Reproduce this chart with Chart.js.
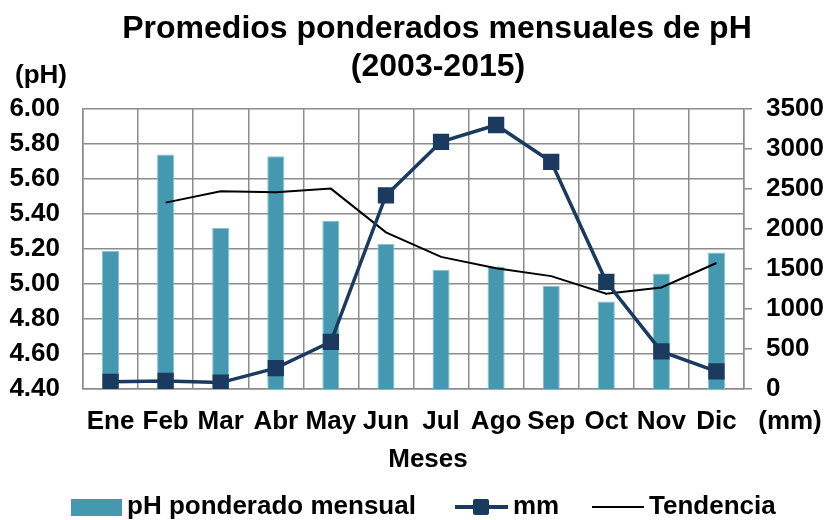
<!DOCTYPE html>
<html>
<head>
<meta charset="utf-8">
<title>Promedios ponderados mensuales de pH</title>
<script src="https://cdn.jsdelivr.net/npm/chart.js@4/dist/chart.umd.min.js"></script>
<style>
  html, body { margin:0; padding:0; background:#fff; }
  #wrap { width:829px; height:520px; }
</style>
</head>
<body>
<div id="wrap"><canvas id="chart" width="829" height="520"></canvas></div>
<script>
const meses = ["Ene","Feb","Mar","Abr","May","Jun","Jul","Ago","Sep","Oct","Nov","Dic"];
const phMensual = [5.19, 5.74, 5.32, 5.73, 5.36, 5.23, 5.08, 5.10, 4.99, 4.90, 5.06, 5.18];
const mm = [90, 100, 80, 260, 590, 2420, 3090, 3300, 2840, 1340, 470, 220];
const tendencia = [null, 5.465, 5.53, 5.525, 5.545, 5.295, 5.155, 5.09, 5.045, 4.945, 4.98, 5.12];

const FONT = '"Liberation Sans", Arial, Helvetica, sans-serif';
const BAR = "#4499b1";
const LINE = "#1b3a60";
const GRID = "#8c8c8c";

// extra labels + legend drawn on the canvas
const extras = {
  id: "extras",
  afterDraw(chart){
    const c = chart.ctx;
    c.save();
    c.fillStyle = "#000";
    c.font = `bold 32px ${FONT}`;
    c.textAlign = "center";
    c.textBaseline = "middle";
    c.fillText("Promedios ponderados mensuales de pH", 437, 29);
    c.fillText("(2003-2015)", 438, 67);

    c.font = `bold 26px ${FONT}`;
    c.fillText("(pH)", 41, 76);
    c.fillText("(mm)", 790, 422);
    c.fillText("Meses", 428, 460);

    // legend
    const ly = 507;
    c.textAlign = "left";
    c.fillStyle = BAR;
    c.fillRect(71, ly - 8, 51, 17);
    c.fillStyle = "#000";
    c.fillText("pH ponderado mensual", 127, ly);

    c.strokeStyle = LINE;
    c.lineWidth = 4;
    c.beginPath(); c.moveTo(455, ly); c.lineTo(508, ly); c.stroke();
    c.fillStyle = LINE;
    c.beginPath();
    if (c.roundRect) c.roundRect(473, ly - 8, 16, 16, 2); else c.rect(473, ly - 8, 16, 16);
    c.fill();
    c.fillStyle = "#000";
    c.fillText("mm", 513, ly);

    c.strokeStyle = "#000";
    c.lineWidth = 2;
    c.beginPath(); c.moveTo(592, ly); c.lineTo(644, ly); c.stroke();
    c.fillText("Tendencia", 649, ly);
    c.restore();
  }
};

new Chart(document.getElementById("chart"), {
  data: {
    labels: meses,
    datasets: [
      {
        type: "line",
        label: "mm",
        data: mm,
        yAxisID: "y2",
        borderColor: LINE,
        backgroundColor: LINE,
        borderWidth: 3.5,
        pointStyle: "rect",
        pointRadius: 11.5,
        pointBorderWidth: 0,
        tension: 0,
        order: 1
      },
      {
        type: "line",
        label: "Tendencia",
        data: tendencia,
        yAxisID: "y",
        borderColor: "#000",
        borderWidth: 2,
        pointRadius: 0,
        tension: 0,
        order: 2
      },
      {
        type: "bar",
        label: "pH ponderado mensual",
        data: phMensual,
        yAxisID: "y",
        backgroundColor: BAR,
        borderColor: "#86c1d2",
        borderWidth: 1,
        barPercentage: 0.31,
        categoryPercentage: 1,
        order: 3
      }
    ]
  },
  options: {
    responsive: false,
    animation: false,
    devicePixelRatio: 1,
    layout: { padding: { top: 109, left: 0, right: 0, bottom: 0 } },
    plugins: {
      legend: { display: false },
      title: { display: false },
      tooltip: { enabled: false }
    },
    scales: {
      x: {
        offset: true,
        grid: { color: GRID, lineWidth: 1.5, drawTicks: false, offset: true },
        border: { color: GRID, width: 1.5 },
        ticks: { color: "#000", font: { family: FONT, size: 26, weight: "bold" }, padding: 17, maxRotation: 0, autoSkip: false },
        afterFit(s){ s.height = 131; }
      },
      y: {
        position: "left",
        min: 4.4,
        max: 6.0,
        grid: { color: GRID, lineWidth: 1.5, drawTicks: false },
        border: { color: GRID, width: 1.5 },
        ticks: {
          stepSize: 0.2,
          color: "#000",
          padding: 23,
          font: { family: FONT, size: 26, weight: "bold" },
          callback: (v) => Number(v).toFixed(2)
        },
        afterFit(s){ s.width = 83; }
      },
      y2: {
        position: "right",
        min: 0,
        max: 3500,
        grid: { drawOnChartArea: false, color: GRID, lineWidth: 1.5, drawTicks: true, tickLength: 8 },
        border: { color: GRID, width: 1.5 },
        ticks: {
          stepSize: 500,
          color: "#000",
          padding: 14,
          font: { family: FONT, size: 26, weight: "bold" },
          callback: (v) => String(v)
        },
        afterFit(s){ s.width = 85; }
      }
    }
  },
  plugins: [extras]
});
</script>
</body>
</html>
